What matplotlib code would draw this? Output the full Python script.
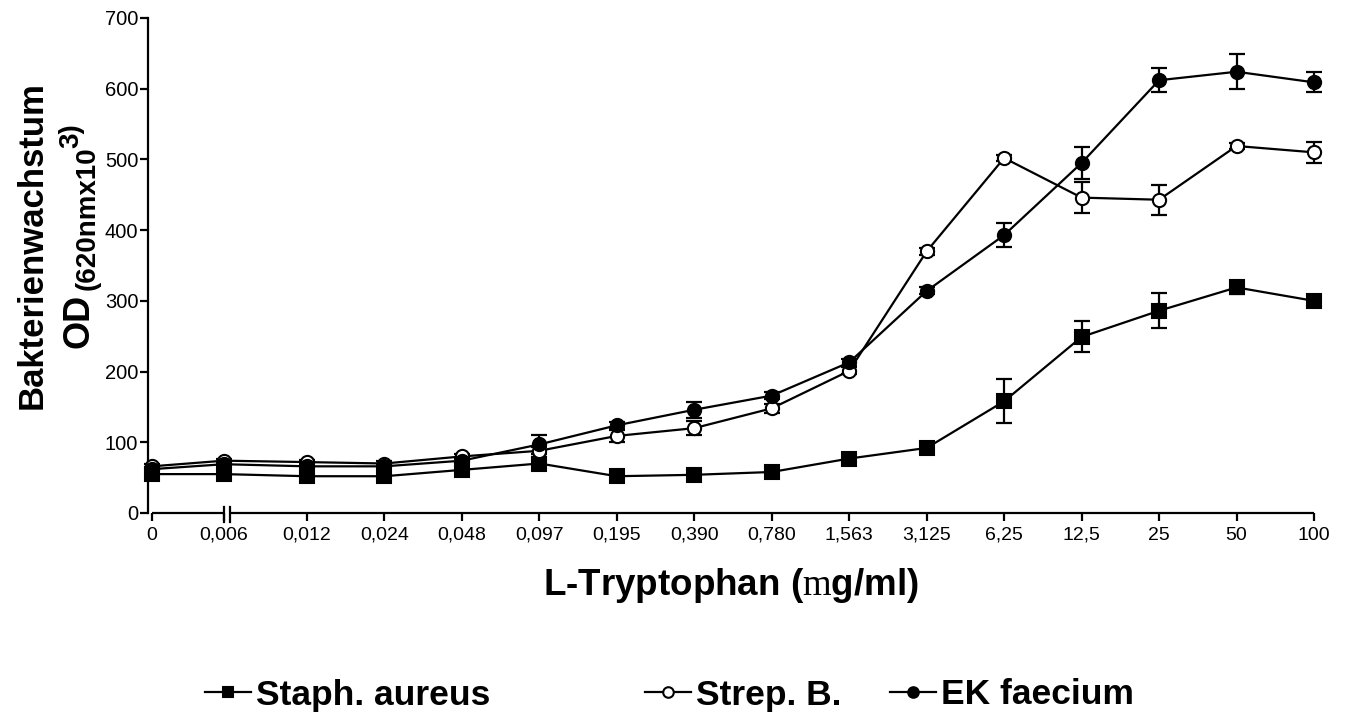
import numpy as np
import matplotlib.pyplot as plt

plt.rcParams['font.family'] = ['Liberation Sans', 'DejaVu Sans']
plt.rcParams['mathtext.fontset'] = 'custom'
plt.rcParams['mathtext.cal'] = 'Liberation Serif'

W, H = 1347, 715

conc_labels = ['0', '0,006', '0,012', '0,024', '0,048', '0,097', '0,195', '0,390',
               '0,780', '1,563', '3,125', '6,25', '12,5', '25', '50', '100']

staph = [55, 55, 52, 52, 61, 70, 52, 54, 58, 77, 92, 158, 249, 286, 319, 300]
staph_err = [2, 2, 2, 2, 2, 3, 2, 2, 2, 3, 4, 31, 22, 25, 9, 8]
strep = [66, 74, 72, 70, 80, 88, 109, 120, 148, 201, 370, 502, 446, 443, 519, 510]
strep_err = [3, 3, 3, 3, 4, 5, 8, 10, 6, 5, 5, 4, 22, 21, 4, 15]
ek = [62, 69, 66, 66, 74, 97, 124, 146, 166, 213, 314, 393, 495, 612, 624, 609]
ek_err = [3, 3, 3, 3, 4, 14, 5, 11, 5, 5, 5, 17, 22, 17, 25, 14]

# category slots; the 0,006 slot sits just left of the axis break
x_pos = np.arange(len(conc_labels), dtype=float)
x_pos[1] = 0.93


def px(x, y):
    return x / W, 1 - y / H


fig = plt.figure(figsize=(W / 100, H / 100), dpi=100)
ax = fig.add_axes([148 / W, 1 - 513 / H, (1314 - 148) / W, (513 - 18) / H])

series = [
    (staph, staph_err, 's', 'black', 'Staph. aureus'),
    (strep, strep_err, 'o', 'white', 'Strep. B.'),
    (ek, ek_err, 'o', 'black', 'EK faecium'),
]
handles = []
for vals, err, mk, fc, name in series:
    ax.errorbar(x_pos, vals, yerr=err, fmt='none', ecolor='black',
                elinewidth=1.6, capsize=6, capthick=1.6, zorder=2, clip_on=False)
    ln, = ax.plot(x_pos, vals, color='black', lw=1.6, marker=mk, markersize=9.5,
                  markerfacecolor=fc, markeredgecolor='black', markeredgewidth=1.5,
                  zorder=3, clip_on=False, label=name)
    handles.append(ln)

ax.set_xlim(-0.052, 15)
ax.set_ylim(0, 700)
ax.set_yticks(range(0, 701, 100))
ax.set_xticks(x_pos)
ax.set_xticklabels(conc_labels)

for s in ['top', 'right', 'bottom']:
    ax.spines[s].set_visible(False)
ax.spines['left'].set_linewidth(1.6)
ax.tick_params(axis='y', direction='out', length=6, width=1.6, labelsize=14.5, pad=1)
ax.tick_params(axis='x', direction='out', length=6, width=1.6, labelsize=14, pad=4)

# broken x axis
ax.plot([0, 0.93], [0, 0], color='black', lw=1.6, clip_on=False, solid_capstyle='butt')
ax.plot([1.01, 15], [0, 0], color='black', lw=1.6, clip_on=False, solid_capstyle='butt')
for xb in [0.93, 1.01]:
    ax.plot([xb, xb], [-13, 8], color='black', lw=1.6, clip_on=False)

ax.set_xlabel(r'L-Tryptophan ($\mathcal{m}$g/ml)', fontsize=26.5, fontweight='bold', labelpad=16)

# y axis title, built from pieces
fig.text(*px(42, 245), 'Bakterienwachstum', rotation=90, rotation_mode='anchor',
         ha='center', va='baseline', fontsize=25, fontweight='bold')
fig.text(*px(88, 348), 'OD', rotation=90, rotation_mode='anchor',
         ha='left', va='baseline', fontsize=26, fontweight='bold')
fig.text(*px(95, 290), '(620nmx10', rotation=90, rotation_mode='anchor',
         ha='left', va='baseline', fontsize=20, fontweight='bold')
fig.text(*px(78, 148), '3)', rotation=90, rotation_mode='anchor',
         ha='left', va='baseline', fontsize=20, fontweight='bold')

# legend, one entry per block
for h, xl in zip(handles, [205, 645, 890]):
    leg = fig.legend(handles=[h], loc='center left', bbox_to_anchor=px(xl, 695),
                     frameon=False, borderpad=0, borderaxespad=0, handlelength=1.3,
                     handletextpad=0.15, markerscale=0.8,
                     prop={'size': 25.5, 'weight': 'bold'})

fig.savefig('out.png', dpi=100)
